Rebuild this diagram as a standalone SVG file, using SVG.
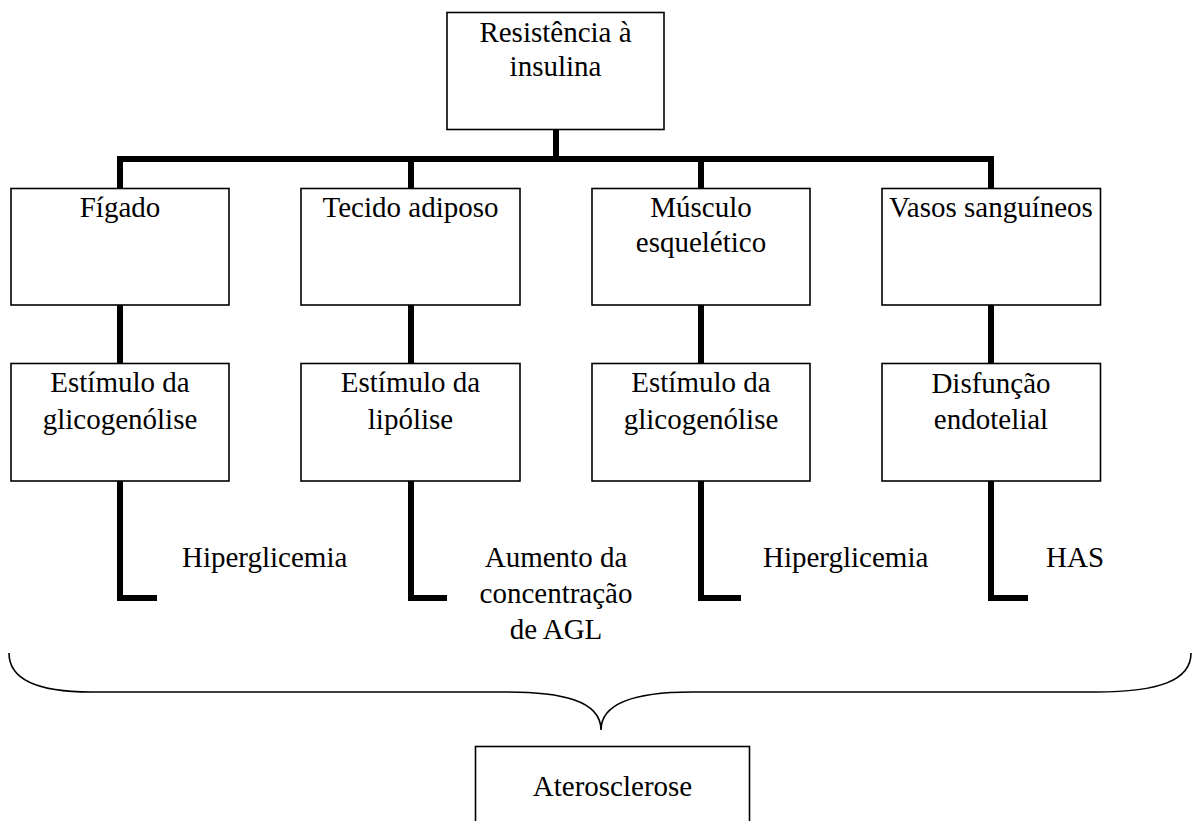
<svg xmlns="http://www.w3.org/2000/svg" width="1193" height="821" viewBox="0 0 1193 821">
<style>
.box{fill:#fff;stroke:#000;stroke-width:1.6}
.t{font-family:"Liberation Serif","Times New Roman",serif;font-size:29px;fill:#000}
.c{text-anchor:middle}
.con{stroke:#000;stroke-width:6;fill:none;stroke-linecap:butt}
.brace{stroke:#000;stroke-width:1.6;fill:none}
</style>
<rect width="1193" height="821" fill="#fff"/>
<g id="connectors">
<path class="con" d="M556 129 V159 M117 159 H994 M120 159 V188 M411 159 V188 M701 159 V188 M991 159 V188"/>
<path class="con" d="M120 305 V363 M411 305 V363 M701 305 V363 M991 305 V363"/>
<path class="con" d="M120 481 V598 H157 M411 481 V598 H447 M701 481 V598 H741 M991 481 V598 H1028"/>
<path class="brace" d="M9 653 C9 680 40 692 91 692 L506 692 C560 692 601 700 601 730 C601 700 642 692 692 692 L1096 692 C1160 692 1191 680 1191 653"/>
</g>
<g id="resistencia">
<rect class="box" x="447" y="12.5" width="217" height="117"/>
<text class="t c" x="555.5" y="42">Resistência à</text>
<text class="t c" x="555.5" y="76">insulina</text>
</g>
<g id="figado">
<rect class="box" x="11" y="188.5" width="218" height="116.5"/>
<text class="t c" x="120" y="217">Fígado</text>
</g>
<g id="tecido">
<rect class="box" x="301" y="188.5" width="219" height="116.5"/>
<text class="t c" x="410.5" y="217">Tecido adiposo</text>
</g>
<g id="musculo">
<rect class="box" x="592" y="188.5" width="218" height="116.5"/>
<text class="t c" x="701" y="217">Músculo</text>
<text class="t c" x="701" y="252">esquelético</text>
</g>
<g id="vasos">
<rect class="box" x="882" y="188.5" width="218.5" height="116.5"/>
<text class="t c" x="991" y="217">Vasos sanguíneos</text>
</g>
<g id="glicogenolise1">
<rect class="box" x="11" y="363.5" width="218" height="117.5"/>
<text class="t c" x="120" y="392">Estímulo da</text>
<text class="t c" x="120" y="429">glicogenólise</text>
</g>
<g id="lipolise">
<rect class="box" x="301" y="363.5" width="219" height="117.5"/>
<text class="t c" x="410.5" y="392">Estímulo da</text>
<text class="t c" x="410.5" y="429">lipólise</text>
</g>
<g id="glicogenolise2">
<rect class="box" x="592" y="363.5" width="218" height="117.5"/>
<text class="t c" x="701" y="392">Estímulo da</text>
<text class="t c" x="701" y="429">glicogenólise</text>
</g>
<g id="disfuncao">
<rect class="box" x="882" y="363.5" width="218.5" height="117.5"/>
<text class="t c" x="991" y="392.5">Disfunção</text>
<text class="t c" x="991" y="429">endotelial</text>
</g>
<g id="hiperglicemia1">
<text class="t" x="182" y="567">Hiperglicemia</text>
</g>
<g id="agl">
<text class="t c" x="556" y="567">Aumento da</text>
<text class="t c" x="556" y="603">concentração</text>
<text class="t c" x="556" y="639">de AGL</text>
</g>
<g id="hiperglicemia2">
<text class="t" x="763" y="567">Hiperglicemia</text>
</g>
<g id="has">
<text class="t" x="1046" y="567">HAS</text>
</g>
<g id="aterosclerose">
<rect class="box" x="475.5" y="746.5" width="274" height="90"/>
<text class="t c" x="612.5" y="796">Aterosclerose</text>
</g>
</svg>
